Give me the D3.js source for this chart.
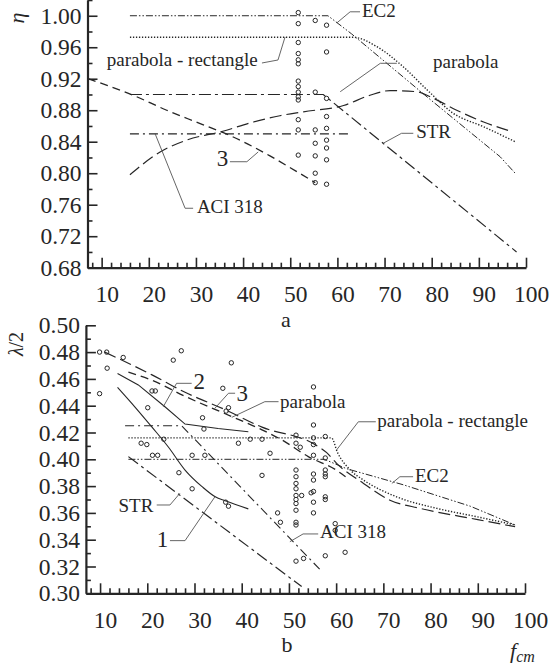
<!DOCTYPE html>
<html><head><meta charset="utf-8">
<script src="https://cdn.jsdelivr.net/npm/d3@7"></script>
<style>body{margin:0;background:#fff}svg{display:block}text{font-family:"Liberation Serif","Times New Roman",serif;fill:#262626}</style>
</head><body><svg id="c" width="549" height="669"></svg>
<script>
// ---------- data ----------
const xTickValues = [10,20,30,40,50,60,70,80,90,100];
const topYTicks = [0.68,0.72,0.76,0.80,0.84,0.88,0.92,0.96,1.00];
const botYTicks = [0.30,0.32,0.34,0.36,0.38,0.40,0.42,0.44,0.46,0.48,0.50];

// top panel (eta vs fcm)
const topEC2 = [[16,1.0],[58,1.0],[63,0.977],[79,0.897],[94.5,0.821],[97.7,0.80]];
const topParRect = [[16,0.9726],[63.4,0.9726],[68.3,0.961],[74,0.935],[79,0.906],[84.6,0.876],[91,0.859],[97.7,0.840]];
const topParabola = [[16,0.798],[22.4,0.827],[28,0.842],[35.5,0.853],[42.2,0.865],[47.8,0.873],[52.8,0.878],[61.3,0.886],[66.9,0.899],[71.2,0.905],[76.8,0.9035],[80.4,0.895],[85.3,0.880],[91,0.865],[97,0.853]];
const topSTR = [[16,0.90],[57,0.90],[98,0.70]];
const topACI = [[16,0.85],[63,0.85]];
const top3 = [[7.1,0.92],[16.7,0.899],[23.8,0.880],[30.9,0.863],[37.9,0.846],[45.7,0.822],[50,0.807],[55.3,0.788]];
const topPtsFcm = [51.7,51.7,51.7,51.7,51.7,51.7,51.7,51.7,51.7,51.7,51.7,51.7,51.7,51.7, 55.3,55.3,55.3,55.3,55.3,55.3,55.3, 57.7,57.7,57.7,57.7,57.7,57.7,57.7,57.7,57.7];
const topPtsEta = [1.004,0.990,0.966,0.952,0.944,0.939,0.917,0.910,0.903,0.897,0.893,0.868,0.855,0.823, 0.994,0.903,0.855,0.838,0.822,0.800,0.788, 0.988,0.954,0.895,0.872,0.857,0.842,0.832,0.817,0.786];

// bottom panel (lambda/2 vs fcm)
const botEC2 = [[16,0.40],[57.5,0.40],[62.2,0.393],[74.2,0.381],[88.4,0.365],[97.9,0.351]];
const botParRect = [[16,0.416],[59,0.416],[60.3,0.405],[63,0.392],[65.8,0.3845],[72.8,0.372],[81.3,0.3634],[90,0.357],[97.9,0.351]];
const botParabola = [[11,0.480],[21,0.463],[28,0.450],[36.5,0.437],[44.3,0.424],[55.5,0.411],[58,0.405],[60.1,0.397],[65.8,0.382],[71.4,0.3695],[77.8,0.3634],[90,0.355],[97.9,0.3497]];
const bot3 = [[16,0.465],[21,0.459],[28,0.447],[36.5,0.434],[44.3,0.422],[48.5,0.4145],[54.1,0.402],[60,0.392],[62,0.387]];
const bot2 = [[13.7,0.464],[18.1,0.4555],[23.8,0.439],[28,0.4263],[35,0.423],[41.4,0.4206]];
const bot1 = [[13.7,0.4537],[17.4,0.439],[21,0.424],[24.5,0.409],[28,0.392],[31.6,0.3796],[34.4,0.372],[36.5,0.369],[41.4,0.363]];
const botACI = [[15.3,0.425],[27.3,0.425],[56.5,0.318]];
const botSTR = [[16,0.402],[52.7,0.305]];
const botPtsFcm = [9.9,11.4,11.5,9.9,14.9,25.5,27.2,37.8,21.0,21.7,20.1,36.0,37.2,36.7,31.7,32.0,23.5,18.7,19.9,21.1,22.2,29.5,32.2,26.7,29.5,36.6,37.2,39.3,41.8,44.3,46.0,44.3,47.6,48.2,
  51.5,51.5,51.5,51.5,51.5,51.5,51.5,51.5,51.5,51.5,51.5,51.5,51.5, 52.7,52.4,53.1,
  55.2,55.2,55.2,55.2,55.2,55.2,55.2,55.2,55.2,55.2,54.7,
  57.7,57.7,57.7,57.7,57.7,57.7,57.7,57.7, 59.8,59.8,61.9];
const botPtsLam = [0.480,0.480,0.468,0.449,0.476,0.474,0.481,0.472,0.451,0.451,0.4385,0.453,0.4385,0.436,0.431,0.4226,0.415,0.412,0.411,0.403,0.403,0.403,0.403,0.390,0.378,0.368,0.365,0.412,0.415,0.415,0.4045,0.388,0.360,0.353,
  0.418,0.412,0.392,0.387,0.382,0.378,0.373,0.370,0.367,0.362,0.353,0.351,0.324, 0.373,0.409,0.326,
  0.454,0.4256,0.416,0.411,0.403,0.389,0.3845,0.376,0.368,0.360,0.375,
  0.417,0.401,0.392,0.389,0.387,0.372,0.370,0.328, 0.352,0.347,0.3306];

// annotations in data coordinates
const topNotes = [
  {t:'EC2', at:[65.2,0.998], lead:[[64.8,1.005],[62.7,1.005],[59.9,0.991]]},
  {t:'parabola - rectangle', at:[11.1,0.936], lead:[[44.0,0.940],[47.4,0.9438],[48.9,0.973]]},
  {t:'parabola', at:[80.3,0.9336], lead:[[72.6,0.9396],[69.1,0.9396],[60.6,0.9035]]},
  {t:'STR', at:[76.7,0.8447], lead:[[76.1,0.8507],[73.6,0.8507],[69.7,0.838]]},
  {t:'3', at:[34.4,0.809], lead:[[37.2,0.8146],[40.8,0.8146],[43.2,0.827]], big:true},
  {t:'ACI 318', at:[30.2,0.7495], lead:[[29.4,0.7555],[27.7,0.7555],[21.3,0.8507]]}
];
const botNotes = [
  {t:'2', at:[29.8,0.4525], lead:[[29.4,0.4567],[26.2,0.4567],[23.4,0.4393]], big:true},
  {t:'3', at:[38.9,0.4437], lead:[[38.6,0.4493],[37.2,0.4493],[34.3,0.438]], big:true},
  {t:'parabola', at:[48.1,0.4383], lead:[[47.8,0.443],[44.9,0.443],[37.9,0.4313]]},
  {t:'parabola - rectangle', at:[68.7,0.4241], lead:[[68.4,0.428],[64.7,0.428],[60.1,0.407]]},
  {t:'EC2', at:[76.7,0.3833], lead:[[76.3,0.387],[73.5,0.387],[71.8,0.382]]},
  {t:'STR', at:[13.9,0.3609], lead:[[22.0,0.3659],[24.8,0.3659],[26.9,0.3746]]},
  {t:'1', at:[22.0,0.3348], lead:[[24.8,0.3393],[28.0,0.3393],[34.3,0.3719]], big:true},
  {t:'ACI 318', at:[56.6,0.3413], lead:[[56.2,0.3443],[53.0,0.3443],[50.2,0.3385]]}
];

// ---------- drawing ----------
const svg = d3.select('#c');
const ink = '#262626';
const xTop = d3.scaleLinear().domain([7,100]).range([87.5,526]);
const xBot = d3.scaleLinear().domain([7,100]).range([85.9,525]);
const yTop = d3.scaleLinear().domain([0.68,1.02]).range([267.7,0]);
const yBot = d3.scaleLinear().domain([0.30,0.50]).range([593.3,325.3]);

const styles = {
  ec2:{dash:'7,2,1.5,2,1.5,2', w:1},
  parrect:{dash:'1.3,1.7', w:1.4},
  parabola:{dash:'12,5', w:1.2},
  str:{dash:'12,4,3,4', w:1.2},
  aci:{dash:'9,4,2,4', w:1.1},
  c3:{dash:'8,5', w:1.3},
  solid:{dash:null, w:1.1}
};

function drawPanel(x, y, yTicks, yMinorStep, series, ptsX, ptsY, notes){
  const g = svg.append('g');
  const [x0,x1] = x.range();
  const [yb,yt] = y.range();
  const xMinor = d3.range(8, 100, 2).filter(v => v % 10 !== 0);
  g.append('g').attr('transform',`translate(0,${yb})`)
    .call(d3.axisBottom(x).tickValues(xMinor).tickSize(-5).tickSizeOuter(0).tickFormat(''))
    .call(a=>a.select('.domain').remove());
  const xa = g.append('g').attr('transform',`translate(0,${yb})`)
    .call(d3.axisBottom(x).tickValues(xTickValues).tickSize(-10).tickSizeOuter(0).tickFormat(d3.format('d')));
  xa.selectAll('text').attr('y',34.5).attr('dy',null).attr('dx',5).attr('font-size',23.5).style('font-family','"Liberation Serif",serif').attr('fill',ink);
  const yMin = y.domain()[0], yMax = y.domain()[1];
  const yMinorVals = d3.range(Math.round((yMax-yMin)/yMinorStep)+1).map(i=>+(yMin+i*yMinorStep).toFixed(3)).filter(v=>!yTicks.some(t=>Math.abs(t-v)<1e-6));
  g.append('g').attr('transform',`translate(${x0},0)`)
    .call(d3.axisLeft(y).tickValues(yMinorVals).tickSize(-5).tickSizeOuter(0).tickFormat(''))
    .call(a=>a.select('.domain').remove());
  const ya = g.append('g').attr('transform',`translate(${x0},0)`)
    .call(d3.axisLeft(y).tickValues(yTicks).tickSize(-10).tickSizeOuter(0).tickPadding(6).tickFormat(d3.format('.2f')));
  ya.selectAll('text').attr('font-size',23.5).style('font-family','"Liberation Serif",serif').attr('fill',ink);
  g.selectAll('.tick line').attr('stroke',ink).attr('stroke-width',1.6);
  g.selectAll('.domain').attr('stroke',ink).attr('stroke-width',2.2);

  series.forEach(s => {
    const st = styles[s.style];
    const line = d3.line().x(d=>x(d[0])).y(d=>y(d[1])).curve(s.smooth ? d3.curveMonotoneX : d3.curveLinear);
    g.append('path').attr('d', line(s.data)).attr('fill','none').attr('stroke',ink)
      .attr('stroke-width',st.w).attr('stroke-dasharray',st.dash);
  });
  g.append('g').selectAll('circle').data(ptsX.map((v,i)=>[v,ptsY[i]])).join('circle')
    .attr('cx',d=>x(d[0])).attr('cy',d=>y(d[1])).attr('r',2.2)
    .attr('fill','none').attr('stroke',ink).attr('stroke-width',1);
  notes.forEach(n => {
    g.append('path').attr('d', d3.line().x(d=>x(d[0])).y(d=>y(d[1]))(n.lead))
      .attr('fill','none').attr('stroke','#555').attr('stroke-width',0.9);
    g.append('text').attr('x',x(n.at[0])).attr('y',y(n.at[1]))
      .attr('font-size', n.big ? 23 : 19).text(n.t);
  });
}

drawPanel(xTop, yTop, topYTicks, 0.02, [
  {data:topEC2, style:'ec2'},
  {data:topParRect, style:'parrect', smooth:true},
  {data:topParabola, style:'parabola', smooth:true},
  {data:topSTR, style:'str'},
  {data:topACI, style:'aci'},
  {data:top3, style:'c3', smooth:true}
], topPtsFcm, topPtsEta, topNotes);

drawPanel(xBot, yBot, botYTicks, 0.01, [
  {data:botEC2, style:'ec2'},
  {data:botParRect, style:'parrect', smooth:true},
  {data:botParabola, style:'parabola', smooth:true},
  {data:bot3, style:'c3', smooth:true},
  {data:bot2, style:'solid'},
  {data:bot1, style:'solid', smooth:true},
  {data:botACI, style:'aci'},
  {data:botSTR, style:'str'}
], botPtsFcm, botPtsLam, botNotes);

svg.append('text').attr('x',286).attr('y',327).attr('font-size',22).attr('text-anchor','middle').text('a');
svg.append('text').attr('x',287).attr('y',652).attr('font-size',22).attr('text-anchor','middle').text('b');
const fcm = svg.append('text').attr('x',510).attr('y',658).attr('font-size',22).attr('font-style','italic');
fcm.append('tspan').text('f');
fcm.append('tspan').attr('font-size',16).attr('dy',4).text('cm');
svg.append('text').attr('transform','translate(24,18) rotate(-90)').attr('text-anchor','middle')
  .attr('font-size',22).attr('font-style','italic').text('η');
svg.append('text').attr('transform','translate(23,344) rotate(-90)').attr('text-anchor','middle')
  .attr('font-size',20).html('<tspan font-style="italic">λ</tspan>/2');
</script>
</body></html>
